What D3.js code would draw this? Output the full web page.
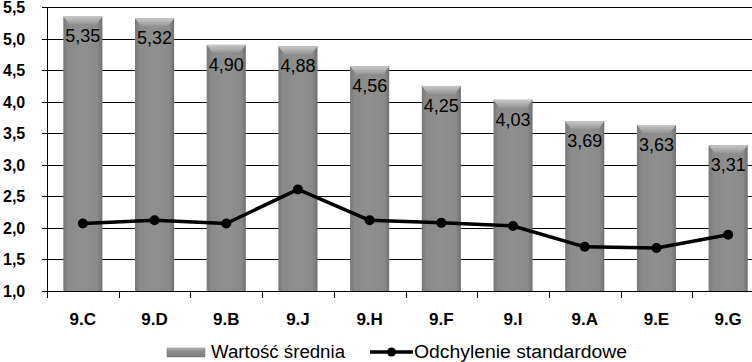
<!DOCTYPE html>
<html>
<head>
<meta charset="utf-8">
<script src="https://cdn.jsdelivr.net/npm/d3@7"></script>
<style>
  body { margin: 0; background: #fff; }
  svg { display: block; }
</style>
</head>
<body>
<div id="chart"></div>
<script>
// data
const categories = ["9.C", "9.D", "9.B", "9.J", "9.H", "9.F", "9.I", "9.A", "9.E", "9.G"]
const meanValues = [5.35, 5.32, 4.90, 4.88, 4.56, 4.25, 4.03, 3.69, 3.63, 3.31]
const sdValues = [2.07, 2.12, 2.07, 2.61, 2.12, 2.08, 2.03, 1.70, 1.68, 1.89]
const yTicks = [1.0, 1.5, 2.0, 2.5, 3.0, 3.5, 4.0, 4.5, 5.0, 5.5]
const legendLabels = ["Wartość średnia", "Odchylenie standardowe"]

const fmt = v => d3.format(".2f")(v).replace(".", ",")
const fmtTick = v => d3.format(".1f")(v).replace(".", ",")

// dimensions
const width = 752, height = 362
const margin = { top: 7, left: 47, bottom: 71 }
const plotRight = 764   // plot runs past the window edge, as in the original
const font = "Liberation Sans, Arial, sans-serif"

const svg = d3.select("#chart").append("svg")
  .attr("width", width)
  .attr("height", height)

const defs = svg.append("defs")
const barGrad = defs.append("linearGradient").attr("id", "barGrad")
  .attr("x1", "0%").attr("x2", "100%").attr("y1", "0%").attr("y2", "0%")
barGrad.append("stop").attr("offset", "0%").attr("stop-color", "#777")
barGrad.append("stop").attr("offset", "12%").attr("stop-color", "#8a8a8a")
barGrad.append("stop").attr("offset", "50%").attr("stop-color", "#8f8f8f")
barGrad.append("stop").attr("offset", "88%").attr("stop-color", "#8a8a8a")
barGrad.append("stop").attr("offset", "100%").attr("stop-color", "#6f6f6f")

const capGrad = defs.append("linearGradient").attr("id", "capGrad")
  .attr("x1", "0%").attr("x2", "0%").attr("y1", "0%").attr("y2", "100%")
capGrad.append("stop").attr("offset", "0%").attr("stop-color", "#c8c8c8")
capGrad.append("stop").attr("offset", "100%").attr("stop-color", "#959595")

const legGrad = defs.append("linearGradient").attr("id", "legGrad")
  .attr("x1", "0%").attr("x2", "0%").attr("y1", "0%").attr("y2", "100%")
legGrad.append("stop").attr("offset", "0%").attr("stop-color", "#bdbdbd")
legGrad.append("stop").attr("offset", "30%").attr("stop-color", "#909090")
legGrad.append("stop").attr("offset", "100%").attr("stop-color", "#7a7a7a")

// scales
const x = d3.scaleBand()
  .domain(categories)
  .range([margin.left, plotRight])
  .paddingInner(0.455)
  .paddingOuter(0.2275)

const y = d3.scaleLinear()
  .domain([1, 5.5])
  .range([height - margin.bottom, margin.top])

// gridlines
svg.append("g")
  .selectAll("line")
  .data(yTicks)
  .join("line")
    .attr("x1", margin.left - 5)
    .attr("x2", plotRight)
    .attr("y1", d => Math.round(y(d)) + 0.5)
    .attr("y2", d => Math.round(y(d)) + 0.5)
    .attr("stroke", "#000")

// y labels
svg.append("g")
  .selectAll("text")
  .data(yTicks)
  .join("text")
    .attr("x", 26)
    .attr("y", d => y(d) + 6)
    .attr("text-anchor", "end")
    .attr("font-family", font)
    .attr("font-weight", "bold")
    .attr("font-size", 16)
    .attr("text-anchor", "start")
    .attr("x", 3)
    .text(fmtTick)

// y axis line
svg.append("line")
  .attr("x1", margin.left + 0.5).attr("x2", margin.left + 0.5)
  .attr("y1", y(5.5)).attr("y2", y(1))
  .attr("stroke", "#000")

// bars
const barGroup = svg.append("g")
const bw = x.bandwidth()
barGroup.selectAll("rect.bar")
  .data(meanValues)
  .join("rect")
    .attr("class", "bar")
    .attr("x", (d, i) => x(categories[i]))
    .attr("y", d => y(d))
    .attr("width", bw)
    .attr("height", d => y(1) - y(d))
    .attr("fill", "url(#barGrad)")

// bevel cap on each bar
barGroup.selectAll("path.cap")
  .data(meanValues)
  .join("path")
    .attr("class", "cap")
    .attr("d", (d, i) => {
      const x0 = x(categories[i]), y0 = y(d)
      return `M${x0},${y0} L${x0 + bw},${y0} L${x0 + bw - 6},${y0 + 8} L${x0 + 6},${y0 + 8} Z`
    })
    .attr("fill", "url(#capGrad)")

// value labels
barGroup.selectAll("text")
  .data(meanValues)
  .join("text")
    .attr("x", (d, i) => x(categories[i]) + bw / 2)
    .attr("y", d => y(d) + 26)
    .attr("text-anchor", "middle")
    .attr("font-family", font)
    .attr("font-size", 18)
    .attr("fill", "#000")
    .text(fmt)

// x axis
const xAxis = svg.append("g")
xAxis.append("line")
  .attr("x1", margin.left).attr("x2", plotRight)
  .attr("y1", Math.round(y(1)) + 0.5).attr("y2", Math.round(y(1)) + 0.5)
  .attr("stroke", "#000")
const step = x.step()
xAxis.selectAll("line.tick")
  .data(d3.range(categories.length + 1))
  .join("line")
    .attr("class", "tick")
    .attr("x1", i => Math.round(margin.left + i * step) + 0.5)
    .attr("x2", i => Math.round(margin.left + i * step) + 0.5)
    .attr("y1", y(1))
    .attr("y2", y(1) + 7)
    .attr("stroke", "#000")
xAxis.selectAll("text")
  .data(categories)
  .join("text")
    .attr("x", d => x(d) + bw / 2)
    .attr("y", 325)
    .attr("text-anchor", "middle")
    .attr("font-family", font)
    .attr("font-weight", "bold")
    .attr("font-size", 17)
    .text(d => d)

// sd line
const line = d3.line()
  .x((d, i) => x(categories[i]) + bw / 2)
  .y(d => y(d))

svg.append("path")
  .datum(sdValues)
  .attr("d", line)
  .attr("fill", "none")
  .attr("stroke", "#000")
  .attr("stroke-width", 3.5)
  .attr("stroke-linejoin", "round")

svg.append("g")
  .selectAll("circle")
  .data(sdValues)
  .join("circle")
    .attr("cx", (d, i) => x(categories[i]) + bw / 2)
    .attr("cy", d => y(d))
    .attr("r", 5)
    .attr("fill", "#000")

// legend
const legend = svg.append("g")
legend.append("rect")
  .attr("x", 167).attr("y", 348)
  .attr("width", 38).attr("height", 9)
  .attr("fill", "url(#legGrad)")
  .attr("stroke", "#777")
  .attr("stroke-width", 0.5)
legend.append("text")
  .attr("x", 211).attr("y", 358)
  .attr("font-family", font)
  .attr("font-size", 18)
  .attr("textLength", 134)
  .attr("lengthAdjust", "spacingAndGlyphs")
  .text(legendLabels[0])
legend.append("line")
  .attr("x1", 370).attr("x2", 413)
  .attr("y1", 352).attr("y2", 352)
  .attr("stroke", "#000").attr("stroke-width", 3.5)
legend.append("circle")
  .attr("cx", 391.5).attr("cy", 352).attr("r", 4.5)
  .attr("fill", "#000")
legend.append("text")
  .attr("x", 414).attr("y", 358)
  .attr("font-family", font)
  .attr("font-size", 18)
  .attr("textLength", 213)
  .attr("lengthAdjust", "spacingAndGlyphs")
  .text(legendLabels[1])
</script>
</body>
</html>
